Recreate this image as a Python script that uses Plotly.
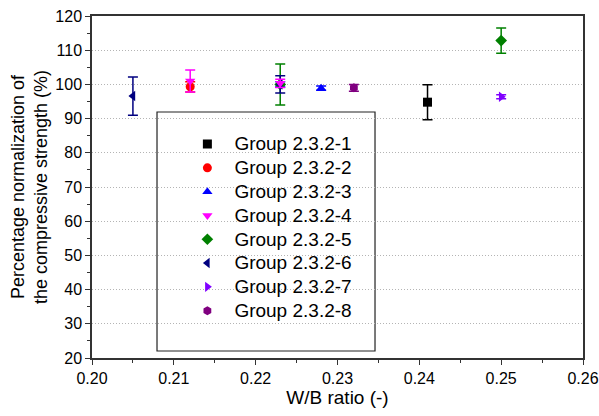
import plotly.graph_objects as go

groups = ["Group 2.3.2-1", "Group 2.3.2-2", "Group 2.3.2-3", "Group 2.3.2-4",
          "Group 2.3.2-5", "Group 2.3.2-6", "Group 2.3.2-7", "Group 2.3.2-8"]
wb_ratio = [[0.241], [0.212], [0.228, 0.223], [0.212, 0.223],
            [0.25, 0.223], [0.205, 0.223], [0.25], [0.232]]
strength = [[94.8], [99.3], [98.9, 100.0], [101.0, 100.3],
            [112.8, 100.0], [96.6, 100.0], [96.4], [99.0]]
errors = [[5.1], [1.5], [0.6, 0.8], [3.2, 1.2],
          [3.7, 6.0], [5.6, 2.5], [0.6], [1.0]]
colors = ["#000000", "#FF0000", "#0000FF", "#FF00FF",
          "#008000", "#000080", "#8000FF", "#800080"]
symbols = ["square", "circle", "triangle-up", "triangle-down",
           "diamond", "triangle-left", "triangle-right", "hexagon"]
draw_order = [0, 1, 2, 7, 6, 4, 5, 3]

fig = go.Figure()
traces = {}
for i in range(len(groups)):
    traces[i] = go.Scatter(
        x=wb_ratio[i], y=strength[i], mode="markers",
        name='<span style="font-size:19px">' + groups[i] + "</span>",
        marker=dict(symbol=symbols[i], color=colors[i], size=9),
        error_y=dict(type="data", array=errors[i], color=colors[i],
                     thickness=1.5, width=5),
        legendrank=i + 1,
    )
for i in draw_order:
    fig.add_trace(traces[i])

font = "Arial, Liberation Sans, sans-serif"
fig.update_layout(
    width=599, height=416,
    margin=dict(l=92, r=16, t=16, b=58, autoexpand=False),
    paper_bgcolor="white", plot_bgcolor="white",
    font=dict(family=font, color="black", size=16),
    showlegend=True,
    legend=dict(x=0.180, y=0.675, xanchor="left", yanchor="top",
                font=dict(size=16, family=font), bgcolor="rgba(0,0,0,0)",
                traceorder="normal", itemwidth=44),
    shapes=[dict(type="rect", xref="paper", yref="paper",
                 x0=0.1324, x1=0.5764, y0=0.0205, y1=0.7193,
                 line=dict(color="#222222", width=1.2), fillcolor="white",
                 layer="below")],
)
fig.update_xaxes(
    range=[0.20, 0.26], dtick=0.01, tick0=0.2, tickformat=".2f",
    automargin=False,
    showgrid=False, zeroline=False,
    showline=True, linecolor="#333333", linewidth=1.5, mirror=True,
    ticks="outside", ticklen=5, tickcolor="#333333",
    minor=dict(dtick=0.005, ticks="outside", ticklen=3, tickcolor="#333333"),
    title=dict(text="W/B ratio (-)", font=dict(size=19), standoff=5),
    tickfont=dict(size=16),
)
fig.update_yaxes(
    range=[20, 120], dtick=10, tick0=20,
    automargin=False,
    showgrid=True, gridcolor="#B4B4B4", griddash="1px,2px", gridwidth=1,
    zeroline=False,
    showline=True, linecolor="#333333", linewidth=1.5, mirror=True,
    ticks="outside", ticklen=5, tickcolor="#333333",
    minor=dict(dtick=5, ticks="outside", ticklen=3, tickcolor="#333333", showgrid=False),
    title=dict(text="Percentage normalization of<br>the compressive strength (%)",
               font=dict(size=18), standoff=3),
    tickfont=dict(size=16),
)
fig.write_html("out.html")
